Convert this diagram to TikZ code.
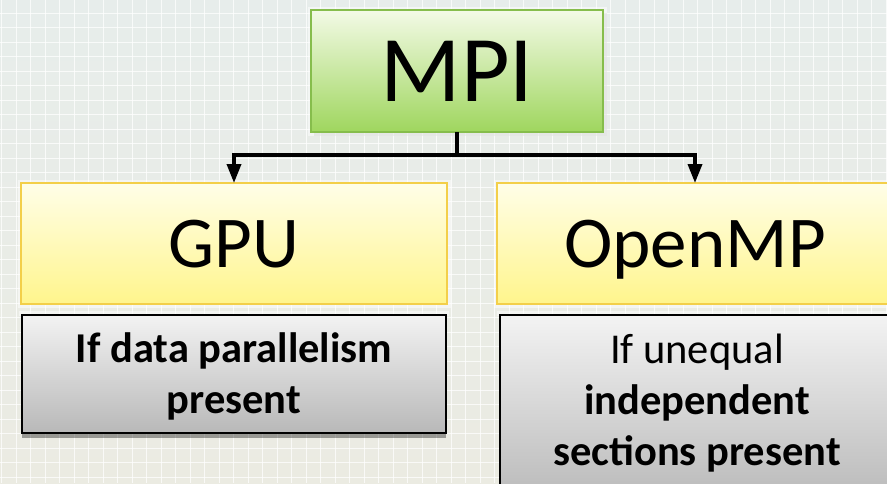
\documentclass[tikz,border=0pt]{standalone}
\usepackage{fontspec}
\setmainfont{Carlito}
\usetikzlibrary{arrows.meta}
\definecolor{bgtop}{HTML}{E7EDEB}
\definecolor{bgbot}{HTML}{EBEBE2}
\definecolor{greentop}{HTML}{F3FAE6}
\definecolor{greenbot}{HTML}{9FD65E}
\definecolor{greenline}{HTML}{86BD4C}
\definecolor{yeltop}{HTML}{FFFEE8}
\definecolor{yelbot}{HTML}{FFF58C}
\definecolor{yelline}{HTML}{F3CF4A}
\definecolor{graytop}{HTML}{F3F3F3}
\definecolor{graybot}{HTML}{B8B8B8}
\tikzset{
  gridline/.style={white, line width=0.9pt, opacity=0.75},
  glow/.style={preaction={draw=white, line width=7pt, opacity=0.5}},
  mpibox/.style={draw=greenline, line width=2pt, top color=greentop, bottom color=greenbot,
    glow, inner sep=0pt, outer sep=0pt, text depth=0pt, font=\fontsize{94}{96}\selectfont},
  titlebox/.style={draw=yelline, line width=2pt, top color=yeltop, bottom color=yelbot,
    glow, inner sep=0pt, outer sep=0pt, text depth=0pt, font=\fontsize{73}{76}\selectfont},
  notebox/.style={draw=black, line width=1.3pt, top color=graytop, bottom color=graybot,
    inner sep=0pt, outer sep=0pt},
  notetext/.style={align=center, inner sep=0pt, font=\fontsize{42.5}{51}\selectfont},
  conn/.style={draw=black, line width=3.6pt},
  tip/.style={-{Triangle[width=14pt,length=19pt]}}
}
\begin{document}
\begin{tikzpicture}[x=1pt,y=-1pt]
\useasboundingbox (0,0) rectangle (887,483);
\shade[top color=bgtop, bottom color=bgbot] (0,0) rectangle (887,483);
\foreach \i in {0,...,61} \draw[gridline] ({1.7+14.5*\i},0) -- ++(0,483);
\foreach \j in {0,...,34} \draw[gridline] (0,{-1.2+14.5*\j}) -- ++(887,0);

% boxes
\fill[black, opacity=0.12] (314,13) rectangle (607,136);
\node[mpibox, minimum width=292pt, minimum height=122pt] (mpi) at (457,71) {MPI};
\node[titlebox, minimum width=426pt, minimum height=121pt] (gpu) at (234,243.5) {GPU};
\node[titlebox, minimum width=396pt, minimum height=121pt] (omp) at (695,243.5) {OpenMP};

% notes
\fill[white, opacity=0.5] (19,311) rectangle (449,316);
\fill[black, opacity=0.35] (22,433) rectangle (446,438);
\node[notebox, minimum width=424pt, minimum height=118pt] (gpunote) at (234,374) {};
\node[notetext, anchor=base] (gputext) at (234,413) {\bfseries If data parallelism\\\bfseries present};
\fill[white, opacity=0.5] (497,311) rectangle (887,316);
\node[notebox, minimum width=400pt, minimum height=190pt] (ompnote) at (700,410) {};
\node[notetext, anchor=base] (omptext) at (697,465) {If unequal\\\bfseries independent\\\bfseries sections present};

% connectors
\coordinate (hub) at (457,155);
\draw[conn] (mpi.south) -- (hub);
\draw[conn, tip] (hub) -| (gpu.north);
\draw[conn, tip] (hub) -| (omp.north);
\end{tikzpicture}
\end{document}
